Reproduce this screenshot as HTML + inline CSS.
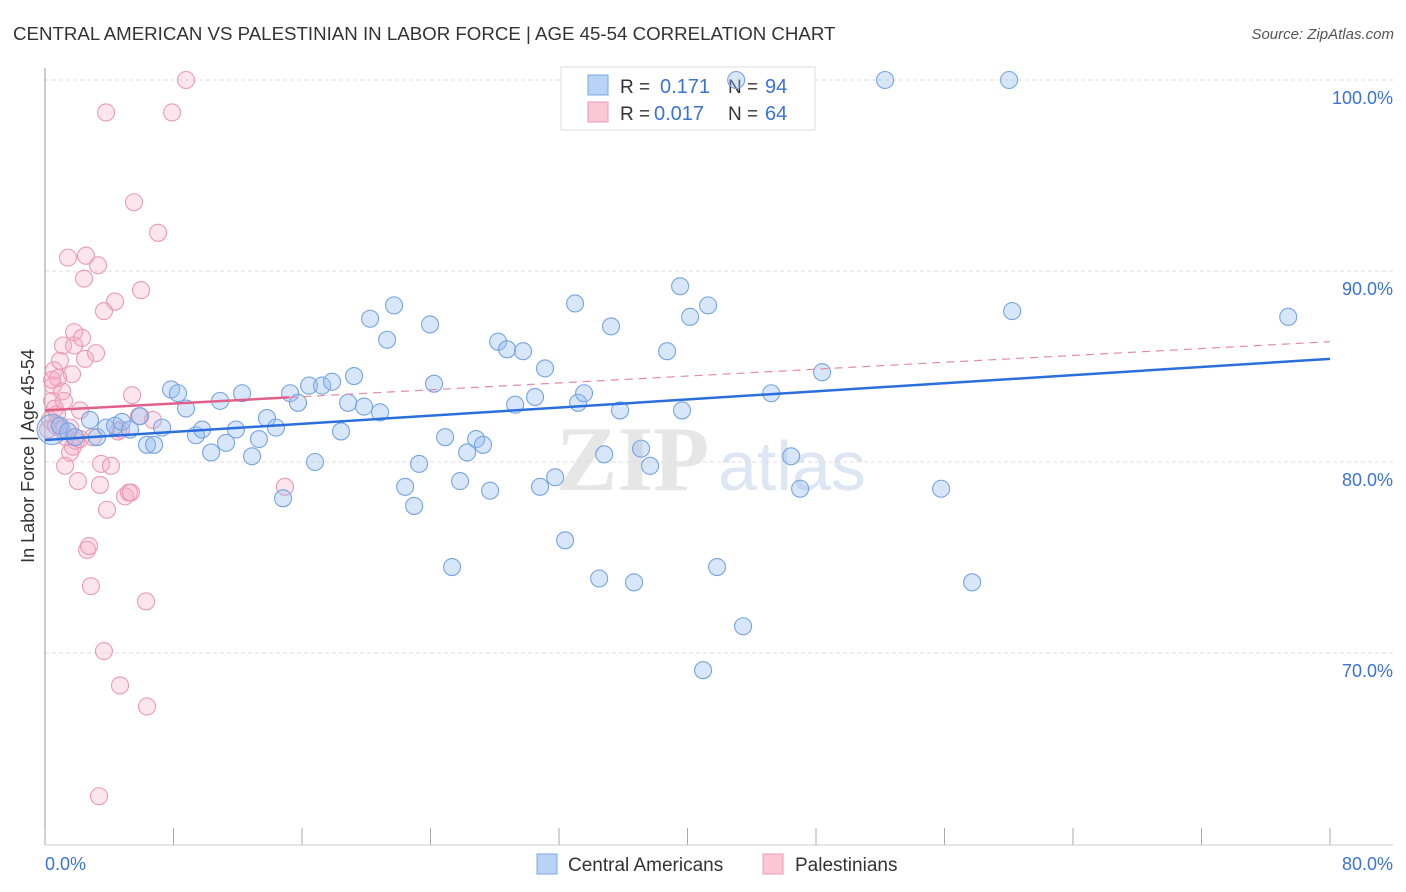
<!DOCTYPE html>
<html><head><meta charset="utf-8"><style>
body{margin:0;background:#fff;font-family:"Liberation Sans",sans-serif;}
svg{display:block}
</style></head><body>
<svg id="chart" width="1406" height="892">
<text x="13" y="40" font-size="18.7" fill="#333">CENTRAL AMERICAN VS PALESTINIAN IN LABOR FORCE | AGE 45-54 CORRELATION CHART</text>
<text x="1394" y="39" font-size="15" fill="#555" font-style="italic" text-anchor="end">Source: ZipAtlas.com</text>
<g><text x="556" y="490" font-size="92" fill="#e6e6e6" font-family="Liberation Serif,serif" font-weight="bold">ZIP</text><text x="718" y="490" font-size="70" fill="#dde6f3">atlas</text></g>
<g id="grid"></g>
<g id="axes"></g>
<g>
<rect x="561" y="67" width="254" height="63" fill="#fff" stroke="#ddd"/>
<rect x="588" y="75" width="20" height="20" fill="#b8d3f5" stroke="#7aa7e6"/>
<rect x="588" y="102" width="20" height="20" fill="#fbc6d5" stroke="#ec9bb4"/>
<text x="620" y="93" font-size="19" fill="#333">R =</text><text x="660" y="93" font-size="20" fill="#3a72d6">0.171</text>
<text x="728" y="93" font-size="19" fill="#333">N =</text><text x="765" y="93" font-size="20" fill="#3a72d6">94</text>
<text x="620" y="120" font-size="19" fill="#333">R =</text><text x="654" y="120" font-size="20" fill="#3a72d6">0.017</text>
<text x="728" y="120" font-size="19" fill="#333">N =</text><text x="765" y="120" font-size="20" fill="#3a72d6">64</text>
</g>
<g id="marks"></g>
<text transform="translate(34,456) rotate(-90)" font-size="18" fill="#333" text-anchor="middle">In Labor Force | Age 45-54</text>
<g>
<rect x="537" y="854" width="20" height="20" fill="#b8d3f5" stroke="#7aa7e6"/>
<text x="568" y="871" font-size="19" fill="#333">Central Americans</text>
<rect x="763" y="854" width="20" height="20" fill="#fbc6d5" stroke="#ec9bb4"/>
<text x="795" y="871" font-size="19" fill="#333">Palestinians</text>
</g>
</svg>
<script>
const yTicks=[100,90,80,70];
const yTickLabels=["100.0%","90.0%","80.0%","70.0%"];
const xTickLabels=["0.0%","80.0%"];
const blueX=[0.44,0.93,1.43,1.87,2.8,3.24,3.8,4.36,4.79,5.29,5.92,6.35,6.79,7.29,7.85,8.28,8.78,9.4,9.78,10.34,10.9,11.27,11.89,12.27,12.89,13.32,13.82,14.38,14.82,15.26,15.75,16.44,16.81,17.25,17.87,18.43,18.87,19.24,19.86,20.24,20.86,21.3,21.73,22.42,22.98,23.29,23.97,24.22,24.91,25.34,25.84,26.28,26.84,27.27,27.71,28.21,28.77,29.27,29.76,30.51,30.82,31.13,31.76,32.38,33,33.19,33.56,34.5,34.81,35.24,35.8,36.67,37.11,37.67,38.73,39.54,39.66,40.16,40.97,41.28,41.84,43.03,43.46,45.21,46.45,47.01,48.38,52.3,55.79,57.72,60.02,60.21,77.4];
const blueY=[81.7,81.9,81.6,81.3,82.2,81.3,81.8,81.9,82.1,81.7,82.4,80.9,80.9,81.8,83.8,83.6,82.8,81.4,81.7,80.5,83.2,81,81.7,83.6,80.3,81.2,82.3,81.8,78.1,83.6,83.1,84,80,84,84.2,81.6,83.1,84.5,82.9,87.5,82.6,86.4,88.2,78.7,77.7,79.9,87.2,84.1,81.3,74.5,79,80.5,81.2,80.9,78.5,86.3,85.9,83,85.8,83.4,78.7,84.9,79.2,75.9,88.3,83.1,83.6,73.9,80.4,87.1,82.7,73.7,80.7,79.8,85.8,89.2,82.7,87.6,69.1,88.2,74.5,100,71.4,83.6,80.3,78.6,84.7,100,78.6,73.7,100,87.9,87.6];
const pinkX=[0.31,0.44,0.5,0.56,0.62,0.75,0.93,1.06,1.12,1.25,1.43,1.56,1.68,1.81,1.81,1.93,2.05,2.18,2.3,2.43,2.49,2.55,2.62,2.74,2.86,2.99,3.18,3.3,3.42,3.49,3.67,3.67,3.8,3.86,4.11,4.36,4.67,4.73,4.98,5.23,5.35,5.42,5.54,5.85,5.98,6.29,6.35,6.72,7.04,7.91,8.78,14.94,3.36,0.19,0.68,1.31,1.74,1.18,0.81,0.44,2.18,4.55,1.06,1.56];
const pinkY=[82.2,83.2,84,84.8,82.8,82.5,85.3,83.7,86.1,79.8,90.7,80.5,84.6,86.8,86.1,81.1,79,82.7,86.5,89.6,85.4,90.8,75.4,75.6,73.5,81.3,85.7,90.3,78.8,79.9,70.1,87.9,98.3,77.5,79.8,88.4,68.3,81.7,78.2,78.4,78.4,83.5,93.6,82.4,89,72.7,67.2,82.2,92,98.3,100,78.7,62.5,81.7,81.9,81.3,80.8,83.2,84.4,84.3,81.2,81.6,81.7,81.8];
const blueTrend=[81.15,85.4];
const pinkTrend=[82.7,86.3];
const pinkSolidEnd=15.2;

const NS="http://www.w3.org/2000/svg";
const X0=45,X1=1330,Y100=80,PX_PER_PCT=19.1;
const xs=v=>X0+(X1-X0)*v/80;
const ys=v=>Y100+(100-v)*PX_PER_PCT;
function mk(tag,attrs,parent){const e=document.createElementNS(NS,tag);for(const k in attrs)e.setAttribute(k,attrs[k]);parent.appendChild(e);return e;}
const grid=document.getElementById('grid'),axes=document.getElementById('axes'),marks=document.getElementById('marks');
yTicks.forEach((t,i)=>{
  const l=mk('line',{x1:X0,x2:1393,y1:ys(t),y2:ys(t),stroke:'#ddd','stroke-dasharray':'4,3'},grid);
  
  
  const tx=mk('text',{x:1393,y:ys(t)+24,'font-size':18,fill:'#3a72d6','text-anchor':'end'},grid);
  tx.textContent=yTickLabels[i];
  
  
});
const ax=mk('line',{x1:X0,x2:X0,y1:68,y2:845,stroke:'#999'},axes);


const bx=mk('line',{x1:X0,x2:1393,y1:845,y2:845,stroke:'#ccc'},axes);


for(let i=0;i<=10;i++){
  const t=mk('line',{x1:xs(i*8),x2:xs(i*8),y1:828,y2:845,stroke:'#aaa'},axes);
  
  
}
[[0,'start',X0],[80,'end',1393]].forEach((d,i)=>{
  const t=mk('text',{x:d[2],y:870,'font-size':18,fill:'#3a72d6','text-anchor':d[1]},axes);
  t.textContent=xTickLabels[i];
  
  
});
function pts(X,Y,fill,stroke,name){
  X.forEach((x,i)=>{
    const r=(i===0&&name==='central-american-point')?15:8.5;
    const c=mk('circle',{cx:xs(x),cy:ys(Y[i]),r:r,fill:fill,stroke:stroke,'stroke-width':1.1},marks);
    
    
  });
}
pts(pinkX,pinkY,'rgba(248,170,196,0.3)','#eb9ab4','palestinian-point');
pts(blueX,blueY,'rgba(150,190,240,0.38)','#76a4e2','central-american-point');
const pinkAt=x=>pinkTrend[0]+(pinkTrend[1]-pinkTrend[0])*x/80;
const pd=mk('line',{x1:xs(pinkSolidEnd),y1:ys(pinkAt(pinkSolidEnd)),x2:xs(80),y2:ys(pinkTrend[1]),stroke:'#e58aa6','stroke-width':1.2,'stroke-dasharray':'8,6'},marks);


const ps=mk('line',{x1:xs(0),y1:ys(pinkTrend[0]),x2:xs(pinkSolidEnd),y2:ys(pinkAt(pinkSolidEnd)),stroke:'#e0608a','stroke-width':2.5},marks);


const bl=mk('line',{x1:xs(0),y1:ys(blueTrend[0]),x2:xs(80),y2:ys(blueTrend[1]),stroke:'#2a6fdb','stroke-width':2.5},marks);


</script>
</body></html>
